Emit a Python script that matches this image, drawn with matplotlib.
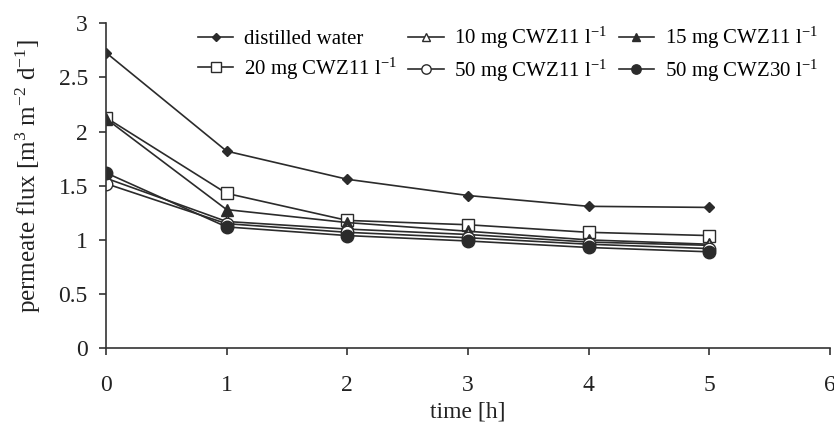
import matplotlib
matplotlib.use("Agg")
import matplotlib.pyplot as plt

plt.rcParams['font.family'] = ['Liberation Serif', 'DejaVu Serif']
plt.rcParams['mathtext.fontset'] = 'custom'
plt.rcParams['mathtext.rm'] = 'Liberation Serif'
plt.rcParams['mathtext.it'] = 'Liberation Serif'

time_h = [0, 1, 2, 3, 4, 5]
distilled = [2.73, 1.82, 1.56, 1.41, 1.31, 1.30]
mg10_cwz11 = [1.57, 1.17, 1.10, 1.05, 0.98, 0.95]
mg15_cwz11 = [2.12, 1.28, 1.16, 1.08, 1.00, 0.96]
mg20_cwz11 = [2.13, 1.43, 1.18, 1.14, 1.07, 1.04]
mg50_cwz11 = [1.52, 1.15, 1.07, 1.02, 0.96, 0.92]
mg50_cwz30 = [1.62, 1.12, 1.04, 0.99, 0.93, 0.89]

labels = {
    'dw': 'distilled water',
    '10': r'10 mg CWZ11 l$^{\mathregular{-1}}$',
    '15': r'15 mg CWZ11 l$^{\mathregular{-1}}$',
    '20': r'20 mg CWZ11 l$^{\mathregular{-1}}$',
    '50a': r'50 mg CWZ11 l$^{\mathregular{-1}}$',
    '50b': r'50 mg CWZ30 l$^{\mathregular{-1}}$',
}

fig = plt.figure(figsize=(8.34, 4.32), dpi=100)
ax = fig.add_axes([0.127, 0.194, 0.868, 0.752])

c = '#2b2b2b'
lw = 1.2
h_dw, = ax.plot(time_h, distilled, color=c, lw=lw, marker='D', ms=5, mfc=c, mec=c, label=labels['dw'])
h_20, = ax.plot(time_h, mg20_cwz11, color=c, lw=lw, marker='s', ms=9, mfc='white', mec=c, label=labels['20'])
h_15, = ax.plot(time_h, mg15_cwz11, color=c, lw=lw, marker='^', ms=8, mfc=c, mec=c, label=labels['15'])
h_10, = ax.plot(time_h, mg10_cwz11, color=c, lw=lw, marker='^', ms=8, mfc='white', mec=c, label=labels['10'])
h_50a, = ax.plot(time_h, mg50_cwz11, color=c, lw=lw, marker='o', ms=9, mfc='white', mec=c, label=labels['50a'])
h_50b, = ax.plot(time_h, mg50_cwz30, color=c, lw=lw, marker='o', ms=9, mfc=c, mec=c, label=labels['50b'])

ax.set_xlim(0, 6)
ax.set_ylim(0, 3)
ax.set_xticks(range(0, 7))
ax.set_yticks([0, 0.5, 1, 1.5, 2, 2.5, 3])
ax.set_yticklabels(['0', '0.5', '1', '1.5', '2', '2.5', '3'])
for s in ['top', 'right']:
    ax.spines[s].set_visible(False)
for s in ['left', 'bottom']:
    ax.spines[s].set_color('#333333')
    ax.spines[s].set_linewidth(1.2)
ax.tick_params(axis='both', direction='out', length=5, width=1.2, color='#333333', labelsize=17, labelcolor='#222222')
ax.tick_params(axis='x', pad=14)
ax.tick_params(axis='y', pad=8)
ax.set_xlabel('time [h]', fontsize=17, color='#222222', labelpad=4)
ax.set_ylabel(r'permeate flux [m$^{\mathregular{3}}$ m$^{\mathregular{-2}}$ d$^{\mathregular{-1}}$]', fontsize=18, color='#222222', labelpad=8)
ax.yaxis.set_label_coords(-0.087, 0.53)

handles = [h_dw, h_20, h_10, h_50a, h_15, h_50b]
leg = fig.legend(handles=handles, labels=[h.get_label() for h in handles], ncol=3,
                 loc='upper right', bbox_to_anchor=(1.003, 0.985), frameon=False,
                 fontsize=15, handlelength=1.7, handletextpad=0.5, columnspacing=0.55,
                 labelspacing=0.3, markerscale=0.75)

fig.savefig('out.png', dpi=100)
